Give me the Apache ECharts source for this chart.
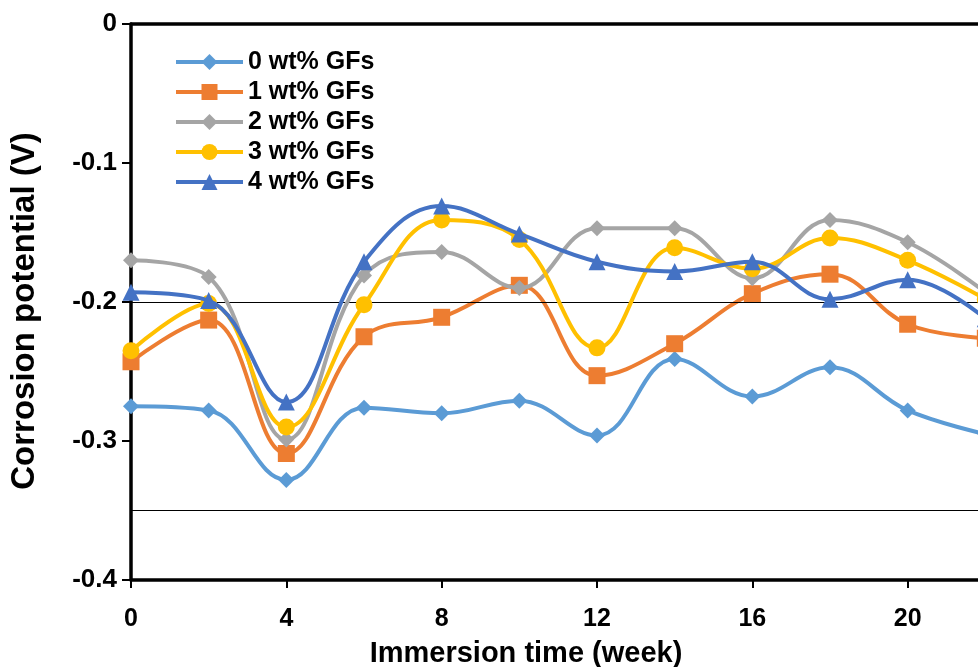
<!DOCTYPE html>
<html>
<head>
<meta charset="utf-8">
<script src="https://cdn.jsdelivr.net/npm/echarts@6/dist/echarts.min.js"></script>
<style>html,body{margin:0;padding:0;background:#fff;}#c{width:978px;height:667px;}</style>
</head>
<body>
<div id="c"></div>
<script>
var weeks = [0, 2, 4, 6, 8, 10, 12, 14, 16, 18, 20, 22];
var gf0 = [-0.275, -0.278, -0.328, -0.276, -0.280, -0.271, -0.296, -0.241, -0.268, -0.247, -0.278, -0.295];
var gf1 = [-0.243, -0.213, -0.309, -0.225, -0.211, -0.188, -0.253, -0.230, -0.194, -0.180, -0.216, -0.226];
var gf2 = [-0.170, -0.182, -0.299, -0.181, -0.164, -0.190, -0.147, -0.147, -0.183, -0.141, -0.157, -0.193];
var gf3 = [-0.235, -0.201, -0.290, -0.202, -0.141, -0.155, -0.233, -0.161, -0.176, -0.154, -0.170, -0.198];
var gf4 = [-0.193, -0.199, -0.272, -0.171, -0.131, -0.151, -0.171, -0.178, -0.171, -0.198, -0.184, -0.212];
var names = ['0 wt% GFs', '1 wt% GFs', '2 wt% GFs', '3 wt% GFs', '4 wt% GFs'];
var colors = ['#5B9BD5', '#ED7D31', '#A5A5A5', '#FFC000', '#4472C4'];
var symbols = ['diamond', 'rect', 'diamond', 'circle', 'triangle'];
var sizes = [16, 17, 16, 17, 17];
var refLines = [-0.2, -0.35];

var FONT = '"Liberation Sans", Arial, sans-serif';
var all = [gf0, gf1, gf2, gf3, gf4];
function pairs(arr) { return weeks.map(function (w, i) { return [w, arr[i]]; }); }

var series = all.map(function (arr, k) {
  var s = {
    name: names[k], type: 'line', data: pairs(arr), smooth: 0.4,
    symbol: symbols[k], symbolSize: sizes[k], showSymbol: true,
    lineStyle: { color: colors[k], width: 4 },
    itemStyle: { color: colors[k] },
    z: 3 + k
  };
  if (k === 0) {
    s.markLine = {
      silent: true, symbol: 'none', label: { show: false },
      lineStyle: { color: '#000', width: 1, type: 'solid' },
      data: refLines.map(function (v) { return { yAxis: v }; })
    };
  }
  return s;
});

var chart = echarts.init(document.getElementById('c'));
chart.setOption({
  animation: false,
  backgroundColor: '#fff',
  grid: { left: 131, top: 24, width: 932, height: 556, outerBoundsMode: 'none', containLabel: false },
  legend: {
    orient: 'vertical', left: 174, top: 49, padding: 0,
    itemWidth: 67, itemHeight: 20, itemGap: 4,
    lineStyle: { width: 4 },
    textStyle: { fontFamily: FONT, fontWeight: 'bold', fontSize: 25, color: '#000', lineHeight: 26 },
    data: names
  },
  xAxis: [{
    type: 'value', min: 0, max: 24, interval: 4, position: 'bottom',
    axisLine: { show: true, onZero: false, lineStyle: { color: '#000', width: 3.5 } },
    axisTick: { show: true, inside: false, length: 8, lineStyle: { color: '#000', width: 2 } },
    splitLine: { show: false },
    axisLabel: { margin: 27, fontFamily: FONT, fontWeight: 'bold', fontSize: 25, color: '#000' },
    name: 'Immersion time (week)', nameLocation: 'middle', nameGap: 59,
    nameTextStyle: { fontFamily: FONT, fontWeight: 'bold', fontSize: 29, color: '#000', padding: [0, 142, 0, 0] }
  }, {
    type: 'value', min: 0, max: 24, position: 'top',
    axisLine: { show: true, onZero: false, lineStyle: { color: '#000', width: 3.5 } },
    axisTick: { show: false }, axisLabel: { show: false }, splitLine: { show: false }
  }],
  yAxis: {
    type: 'value', min: -0.4, max: 0, interval: 0.1,
    axisLine: { show: true, onZero: false, lineStyle: { color: '#000', width: 3.5 } },
    axisTick: { show: true, inside: false, length: 9, lineStyle: { color: '#000', width: 2 } },
    splitLine: { show: false },
    axisLabel: { margin: 14, fontFamily: FONT, fontWeight: 'bold', fontSize: 26, color: '#000' },
    name: 'Corrosion potential (V)', nameLocation: 'middle', nameGap: 90, nameRotate: 90,
    nameTextStyle: { fontFamily: FONT, fontWeight: 'bold', fontSize: 33, color: '#000', padding: [0, 18, 0, 0] }
  },
  series: series
});
</script>
</body>
</html>
